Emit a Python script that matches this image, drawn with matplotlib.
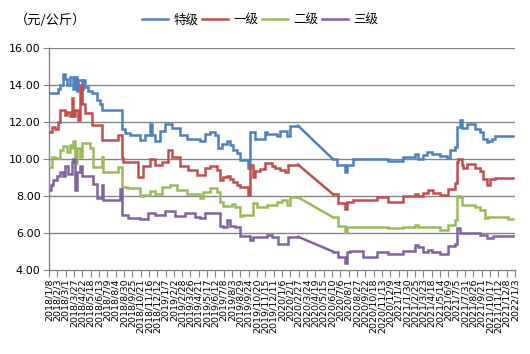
import matplotlib
matplotlib.use('Agg')
import matplotlib.pyplot as plt
from matplotlib.font_manager import FontProperties
import pandas as pd
import numpy as np

series_names = ['特级', '一级', '二级', '三级']
colors = ['#4F81BD', '#C0504D', '#9BBB59', '#8064A2']
unit_label = '（元/公斤）'
y_ticks = [4, 6, 8, 10, 12, 14, 16]

# data gap (straight connecting line in the original chart)
gap_start = '2020-02-25'
gap_end = '2020-06-13'

# 特级 (change points)
te_dates = ['2018-01-08', '2018-02-05', '2018-02-11', '2018-02-21', '2018-02-27', '2018-03-05',
            '2018-03-15', '2018-03-24', '2018-03-30', '2018-04-05', '2018-04-09', '2018-04-21',
            '2018-04-24', '2018-04-30', '2018-05-10', '2018-05-22', '2018-06-07', '2018-06-16',
            '2018-06-23', '2018-08-24', '2018-09-02', '2018-09-18', '2018-10-19', '2018-11-04',
            '2018-11-20', '2018-11-26', '2018-12-05', '2018-12-21', '2019-01-05', '2019-01-27',
            '2019-02-21', '2019-03-15', '2019-04-25', '2019-05-10', '2019-05-26', '2019-06-11',
            '2019-06-20', '2019-07-03', '2019-07-18', '2019-07-28', '2019-08-06', '2019-08-18',
            '2019-08-28', '2019-09-22', '2019-09-28', '2019-10-14', '2019-11-14', '2019-11-20',
            '2019-12-21', '2019-12-31', '2020-01-22', '2020-01-31', '2020-02-25',
            '2020-06-13', '2020-06-26', '2020-07-21', '2020-07-27', '2020-08-15', '2020-12-02',
            '2021-01-18', '2021-02-25', '2021-03-06', '2021-03-22', '2021-04-03', '2021-04-19',
            '2021-05-14', '2021-06-05', '2021-06-14', '2021-06-30', '2021-07-06', '2021-07-15',
            '2021-07-21', '2021-08-06', '2021-08-31', '2021-09-16', '2021-09-25', '2021-10-07',
            '2021-10-11', '2021-10-23', '2021-11-02', '2021-12-28']
te_vals = [13.55, 13.8, 14.0, 14.6, 14.3, 14.0,
           14.45, 13.8, 14.45, 13.7, 14.25, 13.8,
           14.27, 13.9, 13.65, 13.55, 13.2, 13.0,
           12.65, 11.6, 11.4, 11.3, 11.05, 11.3,
           11.9, 11.3, 11.0, 11.5, 11.9, 11.7,
           11.3, 11.1, 11.0, 11.35, 11.45, 11.3,
           10.6, 10.8, 11.0, 10.75, 10.5, 10.3,
           9.97, 9.5, 11.45, 11.1, 11.45, 11.35,
           11.25, 11.5, 11.25, 11.8, 11.8,
           10.0, 9.7, 9.3, 9.7, 10.0, 9.9,
           10.1, 10.25, 10.0, 10.2, 10.4, 10.27,
           10.15, 10.03, 10.5, 10.65, 11.75, 12.1,
           11.7, 11.9, 11.6, 11.45, 11.1, 10.9,
           11.0, 11.1, 11.26, 11.26]

# 一级
yi_dates = ['2018-01-08', '2018-01-17', '2018-01-27', '2018-02-05', '2018-02-11', '2018-02-27',
            '2018-03-05', '2018-03-15', '2018-03-21', '2018-03-24', '2018-03-30', '2018-04-09',
            '2018-04-15', '2018-04-21', '2018-04-30', '2018-05-22', '2018-06-23', '2018-08-12',
            '2018-08-24', '2018-08-27', '2018-10-13', '2018-10-29', '2018-11-20', '2018-12-05',
            '2018-12-27', '2019-01-15', '2019-01-27', '2019-02-21', '2019-03-18', '2019-04-15',
            '2019-05-10', '2019-05-26', '2019-06-17', '2019-06-26', '2019-07-06', '2019-07-18',
            '2019-07-28', '2019-08-06', '2019-08-18', '2019-08-28', '2019-09-22', '2019-09-28',
            '2019-10-07', '2019-10-14', '2019-10-29', '2019-11-14', '2019-12-06', '2019-12-15',
            '2019-12-31', '2020-01-15', '2020-01-25', '2020-02-25',
            '2020-06-13', '2020-06-29', '2020-07-21', '2020-07-27', '2020-08-15', '2020-10-29',
            '2020-12-02', '2021-01-18', '2021-02-25', '2021-03-06', '2021-03-22', '2021-04-06',
            '2021-04-22', '2021-05-14', '2021-06-08', '2021-06-30', '2021-07-06', '2021-07-09',
            '2021-07-21', '2021-07-25', '2021-08-06', '2021-08-31', '2021-09-16', '2021-09-25',
            '2021-10-07', '2021-10-17', '2021-11-02', '2021-12-28']
yi_vals = [11.48, 11.75, 11.6, 12.0, 12.65, 12.4,
           12.55, 12.3, 13.3, 12.3, 12.65, 12.1,
           14.0, 13.0, 12.48, 11.84, 11.03, 11.3,
           10.04, 9.85, 9.04, 9.6, 10.0, 9.65,
           9.85, 10.5, 10.1, 9.6, 9.4, 9.15,
           9.5, 9.6, 9.4, 8.86, 9.05, 9.1,
           8.9, 8.75, 8.6, 8.5, 8.05, 9.68,
           9.05, 9.35, 9.45, 9.8, 9.6, 9.5,
           9.4, 9.3, 9.7, 9.7,
           8.1, 7.6, 7.28, 7.7, 7.8, 7.95,
           7.7, 7.98, 8.1, 8.0, 8.18, 8.32,
           8.18, 8.07, 8.4, 8.7, 9.86, 10.0,
           9.7, 9.5, 9.75, 9.5, 9.35, 8.9,
           8.6, 8.9, 9.0, 9.0]

# 二级
er_dates = ['2018-01-08', '2018-01-17', '2018-01-27', '2018-02-11', '2018-02-21', '2018-03-05',
            '2018-03-15', '2018-03-21', '2018-03-24', '2018-03-30', '2018-04-05', '2018-04-15',
            '2018-04-21', '2018-05-16', '2018-05-25', '2018-06-23', '2018-06-26', '2018-08-12',
            '2018-08-24', '2018-09-09', '2018-10-19', '2018-10-29', '2018-11-20', '2018-12-05',
            '2018-12-27', '2019-01-21', '2019-02-12', '2019-03-15', '2019-04-25', '2019-05-04',
            '2019-05-26', '2019-06-17', '2019-06-26', '2019-07-06', '2019-08-03', '2019-08-12',
            '2019-08-28', '2019-09-06', '2019-10-07', '2019-10-20', '2019-11-20', '2019-12-21',
            '2020-01-06', '2020-01-22', '2020-01-31', '2020-02-25',
            '2020-06-13', '2020-06-29', '2020-07-21', '2020-07-27', '2020-09-06', '2020-12-02',
            '2021-01-18', '2021-02-25', '2021-03-06', '2021-03-28', '2021-04-19', '2021-05-14',
            '2021-06-08', '2021-06-30', '2021-07-06', '2021-07-15', '2021-07-21', '2021-08-31',
            '2021-09-16', '2021-10-01', '2021-10-11', '2021-12-12', '2021-12-28']
er_vals = [9.58, 10.13, 10.05, 10.5, 10.7, 10.4,
           10.76, 10.6, 11.0, 9.8, 10.6, 10.13,
           10.85, 10.6, 9.58, 10.1, 9.31, 9.58,
           8.5, 8.43, 7.98, 8.05, 8.25, 8.1,
           8.5, 8.6, 8.3, 8.1, 7.9, 8.2,
           8.43, 8.2, 7.65, 7.45, 7.55, 7.4,
           6.9, 6.95, 7.6, 7.4, 7.5, 7.7,
           7.8, 7.5, 7.93, 7.93,
           6.85, 6.4, 6.07, 6.35, 6.31, 6.25,
           6.35, 6.45, 6.31, 6.35, 6.31, 6.14,
           6.45, 6.7, 8.0, 7.95, 7.5, 7.4,
           7.25, 6.8, 6.85, 6.78, 6.78]

# 三级
san_dates = ['2018-01-08', '2018-01-14', '2018-01-20', '2018-02-02', '2018-02-11', '2018-02-21',
             '2018-02-27', '2018-03-08', '2018-03-21', '2018-03-24', '2018-03-30', '2018-04-05',
             '2018-04-15', '2018-04-21', '2018-05-25', '2018-06-07', '2018-06-23', '2018-06-26',
             '2018-08-18', '2018-08-24', '2018-09-12', '2018-10-19', '2018-11-13', '2018-12-05',
             '2019-01-05', '2019-02-06', '2019-03-09', '2019-04-09', '2019-04-25', '2019-05-10',
             '2019-06-26', '2019-07-06', '2019-07-18', '2019-07-28', '2019-08-12', '2019-08-28',
             '2019-09-28', '2019-10-07', '2019-11-20', '2019-12-06', '2019-12-25', '2020-01-25',
             '2020-02-25',
             '2020-06-13', '2020-06-29', '2020-07-21', '2020-07-27', '2020-08-05', '2020-09-15',
             '2020-10-29', '2020-12-02', '2021-01-18', '2021-02-25', '2021-03-06', '2021-03-22',
             '2021-04-06', '2021-04-19', '2021-05-14', '2021-06-08', '2021-06-30', '2021-07-06',
             '2021-07-15', '2021-09-16', '2021-10-07', '2021-10-26', '2021-12-28']
san_vals = [8.3, 8.6, 8.85, 9.1, 9.3, 9.1,
            9.6, 9.2, 9.85, 10.0, 8.3, 9.3,
            9.6, 9.1, 8.65, 7.9, 8.6, 7.8,
            8.4, 7.0, 6.8, 6.75, 7.1, 7.0,
            7.2, 6.9, 7.1, 6.85, 6.8, 7.06,
            6.4, 6.35, 6.7, 6.4, 6.3, 5.84,
            5.62, 5.8, 5.9, 5.8, 5.4, 5.8,
            5.8,
            5.0, 4.7, 4.36, 5.0, 5.05, 4.7,
            5.0, 4.88, 5.05, 5.35, 5.25, 5.0,
            5.1, 5.0, 4.88, 5.3, 5.4, 6.25,
            6.02, 5.9, 5.75, 5.82, 5.82]

all_dates = [te_dates, yi_dates, er_dates, san_dates]
all_vals = [te_vals, yi_vals, er_vals, san_vals]

GRID = '#868686'
LW = 1.8

fig = plt.figure(figsize=(5.30, 3.54), dpi=100)
ax = fig.add_axes([49 / 530, 1 - 270 / 354, (515 - 49) / 530, (270 - 48) / 354])

gs = pd.Timestamp(gap_start)
ge = pd.Timestamp(gap_end)
handles = []
for name, col, ds, vs in zip(series_names, colors, all_dates, all_vals):
    d = pd.to_datetime(ds)
    v = np.asarray(vs, dtype=float)
    i1 = list(d).index(gs)
    i2 = list(d).index(ge)
    h, = ax.plot(d[:i1 + 1], v[:i1 + 1], drawstyle='steps-post', color=col, lw=LW,
                 solid_joinstyle='miter', label=name, zorder=3)
    ax.plot(d[i1:i2 + 1], v[i1:i2 + 1], color=col, lw=LW, zorder=3)
    ax.plot(d[i2:], v[i2:], drawstyle='steps-post', color=col, lw=LW,
            solid_joinstyle='miter', zorder=3)
    handles.append(h)

# axes
ax.set_ylim(4, 16)
ax.set_yticks(y_ticks)
ax.set_yticklabels([f'{t:.2f}' for t in y_ticks], fontsize=8, family='DejaVu Sans')
for t in y_ticks[1:]:
    ax.axhline(t, color=GRID, lw=1.0, zorder=1)

xt = pd.date_range('2018-01-08', periods=57, freq='26D')
ax.set_xlim(xt[0], xt[-1])
ax.set_xticks(xt)
ax.set_xticklabels([f'{t.year}/{t.month}/{t.day}' for t in xt], rotation=90,
                   fontsize=6.8, family='DejaVu Sans', va='top', ha='center')

for s in ['top', 'right']:
    ax.spines[s].set_visible(False)
for s in ['left', 'bottom']:
    ax.spines[s].set_color(GRID)
    ax.spines[s].set_linewidth(1.0)
ax.tick_params(axis='y', direction='out', length=4, color=GRID, pad=2)
ax.tick_params(axis='x', direction='out', length=5, color=GRID, pad=1)

cjk = FontProperties(family=['Noto Sans CJK SC', 'DejaVu Sans'], size=9)
cjk_unit = FontProperties(family=['Noto Sans CJK SC', 'DejaVu Sans'], size=9.5)
fig.text(15 / 530, 1 - 20 / 354, unit_label, fontproperties=cjk_unit, ha='left', va='center')
fig.legend(handles=handles, labels=series_names, loc='center',
           bbox_to_anchor=(260 / 530, 1 - 20 / 354), ncol=4, frameon=False,
           prop=cjk, handlelength=2.1, handletextpad=0.4, columnspacing=0.3,
           borderaxespad=0, borderpad=0)

fig.savefig('out.png', dpi=100)
